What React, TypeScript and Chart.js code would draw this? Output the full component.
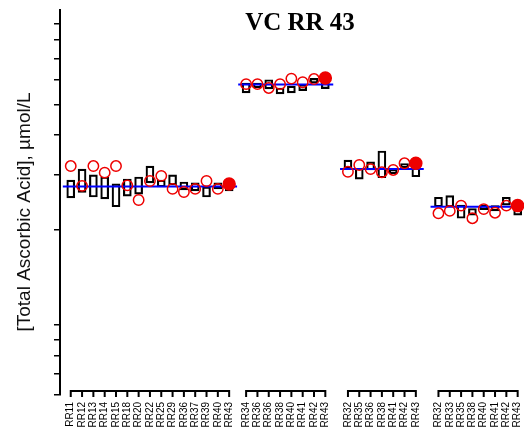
import { useEffect, useRef } from "react";
import { Chart, registerables } from "chart.js";

Chart.register(...registerables);

const titleText = "VC RR 43";
const yTitle = "[Total Ascorbic Acid], µmol/L";

// Group 1
const labelsG1 = ["RR11", "RR12", "RR13", "RR14", "RR15", "RR18", "RR20", "RR22", "RR25", "RR29", "RR36", "RR37", "RR39", "RR40", "RR43"];
const circlesG1 = [31.9, 27.6, 31.9, 30.4, 31.9, 27.7, 24.9, 28.6, 29.7, 27.0, 26.4, 27.0, 28.6, 27.0, 28.0];
const lowG1 = [25.3, 26.3, 25.45, 25.1, 23.7, 25.6, 26.0, 28.2, 27.4, 27.8, 26.8, 26.6, 25.45, 27.0, 26.6];
const highG1 = [28.8, 31.2, 29.9, 29.45, 28.0, 29.0, 29.45, 31.9, 28.8, 29.9, 28.4, 28.2, 27.4, 28.2, 28.6];

// Group 2
const labelsG2 = ["RR34", "RR36", "RR36", "RR38", "RR40", "RR41", "RR42", "RR43"];
const circlesG2 = [58.0, 58.0, 56.4, 58.0, 60.4, 58.8, 60.2, 60.7];
const lowG2 = [54.4, 56.5, 56.0, 54.0, 54.4, 55.3, 58.5, 56.1];
const highG2 = [58.5, 58.5, 59.9, 56.4, 57.1, 57.8, 60.5, 59.2];

// Group 3
const labelsG3 = ["RR32", "RR35", "RR36", "RR38", "RR41", "RR42", "RR43"];
const circlesG3 = [30.6, 32.15, 31.2, 30.5, 31.0, 32.55, 32.55];
const lowG3 = [31.4, 29.0, 31.0, 29.3, 30.2, 31.5, 29.5];
const highG3 = [33.3, 31.4, 32.9, 35.6, 31.2, 32.5, 31.4];

// Group 4
const labelsG4 = ["RR32", "RR33", "RR35", "RR38", "RR40", "RR41", "RR42", "RR43"];
const circlesG4 = [22.6, 23.0, 23.9, 21.8, 23.3, 22.7, 23.9, 23.9];
const lowG4 = [23.7, 23.7, 21.8, 22.3, 23.2, 23.0, 24.0, 22.3];
const highG4 = [25.4, 25.7, 24.0, 23.4, 24.0, 23.9, 25.4, 23.4];

const groupMeans = [27.5, 57.9, 31.2, 23.7];
const yTickValues = [6, 7, 8, 9, 10, 20, 30, 40, 50, 60, 70, 80, 90];

// layout: extra spacing (in category units) inserted before each group
const groupGaps = [0, 1.5, 2, 2];
const lineOverhang = 0.7;

const RED = "#ee0000";

export default function App() {
  const canvasRef = useRef<HTMLCanvasElement | null>(null);

  useEffect(() => {
    const groups = [
      { labels: labelsG1, circles: circlesG1, low: lowG1, high: highG1 },
      { labels: labelsG2, circles: circlesG2, low: lowG2, high: highG2 },
      { labels: labelsG3, circles: circlesG3, low: lowG3, high: highG3 },
      { labels: labelsG4, circles: circlesG4, low: lowG4, high: highG4 },
    ];
    const groupXs: number[][] = [];
    const allX: number[] = [];
    const allLabels: string[] = [];
    const boxData: any[] = [];
    const circleData: any[] = [];
    const lastFlags: boolean[] = [];
    let pos = 0;
    groups.forEach((g, gi) => {
      if (gi > 0) pos += groupGaps[gi];
      const xs: number[] = [];
      g.labels.forEach((lab, i) => {
        const x = pos + i;
        xs.push(x);
        allX.push(x);
        allLabels.push(lab);
        boxData.push({ x, y: [g.low[i], g.high[i]] });
        circleData.push({ x, y: g.circles[i] });
        lastFlags.push(i === g.labels.length - 1);
      });
      groupXs.push(xs);
      pos = xs[xs.length - 1];
    });

    const lineSets = groupXs.map((xs, gi) => ({
      type: "line" as const,
      data: [
        { x: xs[0] - lineOverhang, y: groupMeans[gi] },
        { x: xs[xs.length - 1] + lineOverhang, y: groupMeans[gi] },
      ],
      borderColor: "#0000ff",
      borderWidth: 2,
      pointRadius: 0,
      order: 1,
    }));

    const decor = {
      id: "decor",
      afterDraw(chart: any) {
        const { ctx, chartArea, scales } = chart;
        const xs = scales.x;
        ctx.save();
        ctx.strokeStyle = "#000";
        ctx.lineWidth = 2;
        const y0 = chartArea.bottom - 4;
        groupXs.forEach((g) => {
          ctx.beginPath();
          ctx.moveTo(xs.getPixelForValue(g[0]) - 1, y0);
          ctx.lineTo(xs.getPixelForValue(g[g.length - 1]) + 1, y0);
          g.forEach((v) => {
            const p = xs.getPixelForValue(v);
            ctx.moveTo(p, y0);
            ctx.lineTo(p, y0 + 6);
          });
          ctx.stroke();
        });
        ctx.fillStyle = "#000";
        ctx.font = 'bold 25px "Liberation Serif"';
        ctx.textAlign = "center";
        ctx.textBaseline = "alphabetic";
        ctx.fillText(titleText, 300, 30);
        ctx.translate(25, 212);
        ctx.rotate(-Math.PI / 2);
        ctx.font = '19px "Liberation Sans"';
        ctx.textBaseline = "middle";
        ctx.fillStyle = "#111";
        ctx.fillText(yTitle, 0, 0);
        ctx.restore();
      },
    };

    const chart = new Chart(canvasRef.current as HTMLCanvasElement, {
      type: "bar",
      data: {
        datasets: [
          {
            type: "scatter" as const,
            data: circleData,
            pointRadius: (c: any) => (lastFlags[c.dataIndex] ? 6 : 5.2),
            pointBackgroundColor: (c: any) => (lastFlags[c.dataIndex] ? RED : "rgba(0,0,0,0)"),
            pointBorderColor: RED,
            pointBorderWidth: 1.5,
            order: 0,
          } as any,
          ...lineSets,
          {
            type: "bar" as const,
            data: boxData,
            backgroundColor: "rgba(0,0,0,0)",
            borderColor: "#000",
            borderWidth: 1.5,
            borderSkipped: false,
            barThickness: 8,
            order: 2,
          } as any,
        ],
      },
      options: {
        responsive: false,
        animation: false,
        layout: { autoPadding: false, padding: { top: 9.5, left: 0, right: 0, bottom: 0 } },
        plugins: { legend: { display: false }, tooltip: { enabled: false } },
        scales: {
          x: {
            type: "linear",
            min: -0.95,
            max: 40.06,
            offset: false,
            afterBuildTicks: (s: any) => {
              s.ticks = allX.map((v) => ({ value: v }));
            },
            afterFit: (s: any) => {
              s.height = 36;
              s.paddingLeft = 0;
              s.paddingRight = 0;
            },
            ticks: {
              autoSkip: false,
              minRotation: 90,
              maxRotation: 90,
              padding: 7,
              color: "#000",
              font: { family: '"Liberation Sans"', size: 10 },
              callback: (_v: any, i: number) => allLabels[i],
            },
            grid: { display: false, drawTicks: false },
            border: { display: false },
          },
          y: {
            type: "logarithmic",
            min: 6,
            max: 100,
            afterBuildTicks: (s: any) => {
              s.ticks = yTickValues.map((v) => ({ value: v }));
            },
            afterFit: (s: any) => {
              s.width = 60;
              s.paddingTop = 0;
              s.paddingBottom = 0;
            },
            ticks: { display: false },
            grid: {
              drawOnChartArea: false,
              drawTicks: true,
              tickLength: 6,
              color: "#000",
              lineWidth: 1.5,
            },
            border: { display: true, color: "#000", width: 2 },
          },
        },
      } as any,
      plugins: [decor],
    });
    return () => chart.destroy();
  }, []);

  return (
    <div style={{ position: "absolute", left: 0, top: 0, width: 524, height: 431, background: "#fff" }}>
      <canvas ref={canvasRef} width={524} height={431} style={{ display: "block" }} />
    </div>
  );
}
